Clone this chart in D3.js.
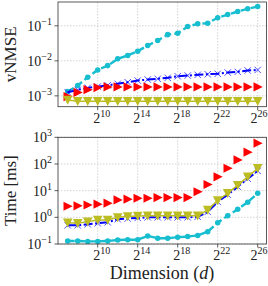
<!DOCTYPE html>
<html>
<head>
<meta charset="utf-8">
<script src="https://cdn.jsdelivr.net/npm/d3@7"></script>
<style>
  body { margin: 0; background: #fff; }
  text { font-family: "Liberation Serif", "DejaVu Serif", serif; fill: #222; }
</style>
</head>
<body>
<div id="vis"></div>
<script>
// dimension exponents: d = 2^k
const DIM_LOG2 = [7, 8, 9, 10, 11, 12, 13, 14, 15, 16, 17, 18, 19, 20, 21, 22, 23, 24, 25, 26];
const X_TICKS = [10, 14, 18, 22, 26];

// vNMSE per series (top panel)
const NMSE_CYAN = [1.33e-3, 1.97e-3, 3.4e-3, 5.5e-3, 7.3e-3, 1.14e-2, 1.42e-2, 1.88e-2, 2.74e-2, 3.8e-2,
                   5.6e-2, 6.1e-2, 9.5e-2, 0.114, 0.119, 0.17, 0.21, 0.256, 0.306, 0.356];
const NMSE_BLUE = [1.27e-3, 1.48e-3, 1.69e-3, 1.84e-3, 2.0e-3, 2.2e-3, 2.45e-3, 2.73e-3, 2.92e-3, 3.06e-3,
                   3.27e-3, 3.63e-3, 3.8e-3, 3.98e-3, 4.14e-3, 4.26e-3, 4.63e-3, 4.85e-3, 5.3e-3, 5.5e-3];
const NMSE_RED = [0.95e-3, 1.25e-3, 1.5e-3, 1.72e-3, 1.8e-3, 1.8e-3, 1.8e-3, 1.8e-3, 1.8e-3, 1.8e-3,
                  1.8e-3, 1.8e-3, 1.8e-3, 1.8e-3, 1.8e-3, 1.8e-3, 1.8e-3, 1.8e-3, 1.8e-3, 1.8e-3];
const NMSE_OLIVE = [7.6e-4, 7.0e-4, 7.0e-4, 7.0e-4, 7.0e-4, 7.0e-4, 7.0e-4, 7.0e-4, 7.0e-4, 7.0e-4,
                    7.0e-4, 7.0e-4, 7.0e-4, 7.0e-4, 7.0e-4, 7.0e-4, 7.0e-4, 7.0e-4, 7.0e-4, 7.0e-4];

// time in ms per series (bottom panel)
const TIME_CYAN = [0.13, 0.13, 0.125, 0.125, 0.13, 0.14, 0.145, 0.145, 0.2, 0.165,
                   0.165, 0.18, 0.19, 0.21, 0.29, 0.63, 1.15, 2.0, 3.7, 8.0];
const TIME_BLUE = [0.5, 0.5, 0.55, 0.6, 0.65, 0.85, 0.9, 0.95, 1.0, 1.0,
                   1.0, 1.0, 1.0, 1.05, 1.6, 3.8, 7.0, 14, 28, 55];
const TIME_RED = [2.6, 2.7, 2.9, 3.1, 3.4, 4.5, 4.8, 5.2, 5.2, 5.5,
                  5.5, 5.5, 5.5, 9.1, 17, 33, 69, 142, 277, 600];
const TIME_OLIVE = [0.63, 0.6, 0.69, 0.8, 0.8, 1.0, 1.07, 1.13, 1.15, 1.15,
                    1.15, 1.15, 1.15, 1.15, 1.9, 4.3, 8.0, 16, 33, 69];

const WIDTH = 268, HEIGHT = 286;
const LEFT = 58, RIGHT = 266.5;

const svg = d3.select("#vis").append("svg")
    .attr("width", WIDTH)
    .attr("height", HEIGHT);

const X_SCALE = d3.scaleLog().base(2)
    .domain([Math.pow(2, 6.03), Math.pow(2, 26.88)])
    .range([LEFT, RIGHT]);

const CYAN = "#17becf", BLUE = "#0000ff", RED = "#ff0000", OLIVE = "#bcbd22";

// marker shapes
const triRight = "M-4.2,-4.6L5,0L-4.2,4.6Z";
const triDown = "M-4.8,-4.2L4.8,-4.2L0,4.8Z";
const cross = "M-3.2,-3.2L3.2,3.2M-3.2,3.2L3.2,-3.2";

function supLabel(sel, base, exp, anchor) {
  sel.attr("text-anchor", anchor);
  sel.append("tspan").attr("font-size", 14).text(base);
  sel.append("tspan").attr("font-size", 10).attr("dy", -6).text(exp);
  return sel;
}

function buildPanel(top, bottom, yDomain, yTicks, yLabel, series) {
  const Y_SCALE = d3.scaleLog().domain(yDomain).range([bottom, top]);
  const g = svg.append("g");

  // grid
  g.selectAll(".gx").data(X_TICKS).enter().append("line")
    .attr("x1", d => X_SCALE(Math.pow(2, d))).attr("x2", d => X_SCALE(Math.pow(2, d)))
    .attr("y1", top).attr("y2", bottom)
    .attr("stroke", "#c8c8c8").attr("stroke-width", 0.8).attr("stroke-dasharray", "1.5,1.5");
  g.selectAll(".gy").data(yTicks).enter().append("line")
    .attr("x1", LEFT).attr("x2", RIGHT)
    .attr("y1", d => Y_SCALE(d)).attr("y2", d => Y_SCALE(d))
    .attr("stroke", "#c8c8c8").attr("stroke-width", 0.8).attr("stroke-dasharray", "1.5,1.5");

  const clip = "clip" + Math.round(top);
  svg.append("clipPath").attr("id", clip).append("rect")
    .attr("x", LEFT).attr("y", top).attr("width", RIGHT - LEFT).attr("height", bottom - top);
  const plot = g.append("g").attr("clip-path", "url(#" + clip + ")");

  series.forEach(s => {
    const pts = DIM_LOG2.map((k, i) => [X_SCALE(Math.pow(2, k)), Y_SCALE(s.values[i])]);
    if (s.line) {
      plot.append("path")
        .attr("d", d3.line()(pts))
        .attr("fill", "none")
        .attr("stroke", s.color)
        .attr("stroke-width", s.lw)
        .attr("stroke-dasharray", s.dash || null);
    }
    plot.selectAll(null).data(pts).enter().append("path")
      .attr("transform", d => "translate(" + d[0] + "," + d[1] + ")")
      .attr("d", s.marker)
      .attr("fill", s.fill)
      .attr("stroke", s.stroke)
      .attr("stroke-width", s.sw);
  });

  // frame
  g.append("rect")
    .attr("x", LEFT).attr("y", top).attr("width", RIGHT - LEFT).attr("height", bottom - top)
    .attr("fill", "none").attr("stroke", "#333").attr("stroke-width", 0.8);

  // y ticks
  yTicks.forEach(t => {
    const y = Y_SCALE(t);
    g.append("line").attr("x1", LEFT - 3.5).attr("x2", LEFT).attr("y1", y).attr("y2", y)
      .attr("stroke", "#333").attr("stroke-width", 0.8);
    const exp = Math.round(Math.log10(t));
    supLabel(g.append("text").attr("x", LEFT - 6).attr("y", y + 5), "10", exp < 0 ? "\u2212" + (-exp) : String(exp), "end");
  });

  // x ticks
  X_TICKS.forEach(k => {
    const x = X_SCALE(Math.pow(2, k));
    g.append("line").attr("x1", x).attr("x2", x).attr("y1", bottom).attr("y2", bottom + 3.5)
      .attr("stroke", "#333").attr("stroke-width", 0.8);
    const lab = supLabel(g.append("text").attr("x", x + 4).attr("y", bottom + 16), "2", String(k), "middle");
    // keep the last label inside the picture
    const bb = lab.node().getBBox();
    const over = bb.x + bb.width - (WIDTH - 0.5);
    if (over > 0) lab.attr("x", x + 4 - over);
  });

  g.append("text")
    .attr("transform", "translate(16," + ((top + bottom) / 2) + ") rotate(-90)")
    .attr("text-anchor", "middle")
    .attr("font-size", 17)
    .text(yLabel);
}

buildPanel(2, 106.7, [Math.pow(10, -3.31), Math.pow(10, -0.32)], [1e-3, 1e-2, 1e-1], "vNMSE", [
  { values: NMSE_CYAN, color: CYAN, line: true, lw: 2.4, dash: "7,3.2", marker: d3.symbol(d3.symbolCircle, 24)(), fill: CYAN, stroke: "none", sw: 0 },
  { values: NMSE_BLUE, color: BLUE, line: true, lw: 2, dash: "9,2.5,2,2.5", marker: cross, fill: "none", stroke: BLUE, sw: 0.7 },
  { values: NMSE_RED, color: RED, line: false, marker: triRight, fill: RED, stroke: "none", sw: 0 },
  { values: NMSE_OLIVE, color: OLIVE, line: true, lw: 1.5, marker: triDown, fill: OLIVE, stroke: "none", sw: 0 }
]);

buildPanel(137.3, 244, [0.1, 1000], [0.1, 1, 10, 100, 1000], "Time [ms]", [
  { values: TIME_CYAN, color: CYAN, line: true, lw: 2.4, dash: "7,3.2", marker: d3.symbol(d3.symbolCircle, 24)(), fill: CYAN, stroke: "none", sw: 0 },
  { values: TIME_BLUE, color: BLUE, line: true, lw: 2, dash: "9,2.5,2,2.5", marker: cross, fill: "none", stroke: BLUE, sw: 0.7 },
  { values: TIME_RED, color: RED, line: false, marker: triRight, fill: RED, stroke: "none", sw: 0 },
  { values: TIME_OLIVE, color: OLIVE, line: true, lw: 1.5, marker: triDown, fill: OLIVE, stroke: "none", sw: 0 }
]);

// x axis title
const xt = svg.append("text")
    .attr("x", 162).attr("y", 279)
    .attr("text-anchor", "middle")
    .attr("font-size", 18);
xt.append("tspan").text("Dimension (");
xt.append("tspan").attr("font-style", "italic").text("d");
xt.append("tspan").text(")");
</script>
</body>
</html>
